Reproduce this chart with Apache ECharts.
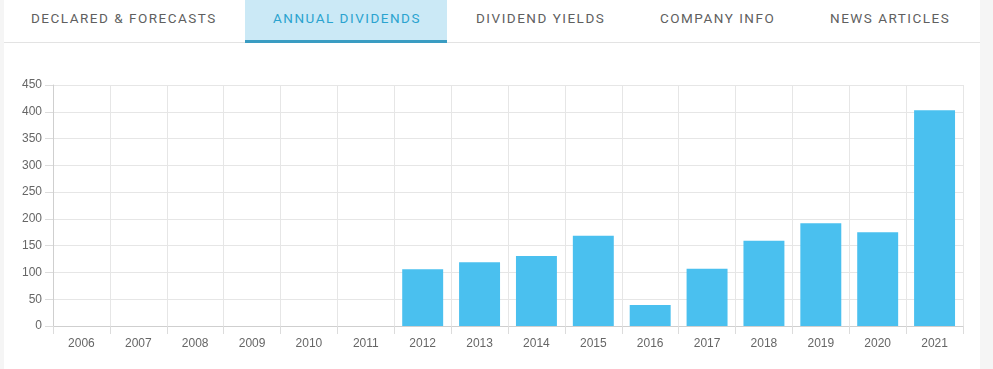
<!DOCTYPE html>
<html>
<head>
<meta charset="utf-8">
<script src="https://cdn.jsdelivr.net/npm/echarts@6/dist/echarts.min.js"></script>
<style>
  html, body { margin: 0; padding: 0; width: 993px; height: 369px; background: #f5f5f5; overflow: hidden; font-family: Roboto, "Noto Sans", Arial, sans-serif; }
  #panel { position: absolute; left: 4px; top: 0; width: 976px; height: 369px; background: #ffffff; }
  #tabs { position: absolute; left: 0; top: 0; width: 976px; height: 42px; border-bottom: 1px solid #e3e3e3; }
  .activebg { position: absolute; left: 241px; top: 0; width: 202px; height: 40px; background: #cbe9f6; border-bottom: 3px solid #3a9cc2; }
  .tab { position: absolute; top: 0; height: 40px; line-height: 36px; white-space: nowrap; font-size: 13.5px; letter-spacing: 1.5px; color: #5f5f5f; }
  .tab.active { color: #2aa3cf; }
  #chart { position: absolute; left: 0; top: 0; width: 993px; height: 369px; }
</style>
</head>
<body>
<div id="panel">
  <div id="tabs"><div class="activebg"></div></div>
</div>
<div id="chart"></div>
<script>
const tabLabels = ["DECLARED & FORECASTS", "ANNUAL DIVIDENDS", "DIVIDEND YIELDS", "COMPANY INFO", "NEWS ARTICLES"];
const categories = ["2006","2007","2008","2009","2010","2011","2012","2013","2014","2015","2016","2017","2018","2019","2020","2021"];
const dividends = [0, 0, 0, 0, 0, 0, 106, 119, 130.5, 168.5, 39.3, 107, 159, 192, 175, 403];
const yTicks = [0, 50, 100, 150, 200, 250, 300, 350, 400, 450];

// tabs (page chrome)
const tabLeft = [27, 269, 472, 656, 826];
const tabsEl = document.getElementById('tabs');
tabLabels.forEach((t, i) => {
  const d = document.createElement('div');
  d.className = 'tab' + (i === 1 ? ' active' : '');
  d.style.left = tabLeft[i] + 'px';
  d.textContent = t;
  tabsEl.appendChild(d);
});

const chart = echarts.init(document.getElementById('chart'), null, { renderer: 'canvas' });
chart.setOption({
  animation: false,
  grid: { left: 53, right: 30, top: 85, bottom: 43, containLabel: false },
  xAxis: {
    type: 'category',
    data: categories,
    boundaryGap: true,
    axisLine: { show: true, lineStyle: { color: '#cfcfcf', width: 1 } },
    axisTick: { show: true, alignWithLabel: false, length: 8, lineStyle: { color: '#dcdcdc' } },
    splitLine: { show: true, lineStyle: { color: '#e6e6e6', width: 1 } },
    axisLabel: { color: '#666', fontSize: 12, margin: 12, fontFamily: 'Arial, "Liberation Sans", sans-serif' }
  },
  yAxis: {
    type: 'value',
    min: yTicks[0],
    max: yTicks[yTicks.length - 1],
    interval: 50,
    axisLine: { show: true, lineStyle: { color: '#cfcfcf' } },
    axisTick: { show: true, length: 8, lineStyle: { color: '#dcdcdc' } },
    splitLine: { show: true, lineStyle: { color: '#e6e6e6', width: 1 } },
    axisLabel: { color: '#666', fontSize: 12, margin: 11, fontFamily: 'Arial, "Liberation Sans", sans-serif' }
  },
  series: [{
    type: 'bar',
    data: dividends,
    barCategoryGap: '28%',
    itemStyle: { color: '#4ac0ef' }
  }]
});
</script>
</body>
</html>
